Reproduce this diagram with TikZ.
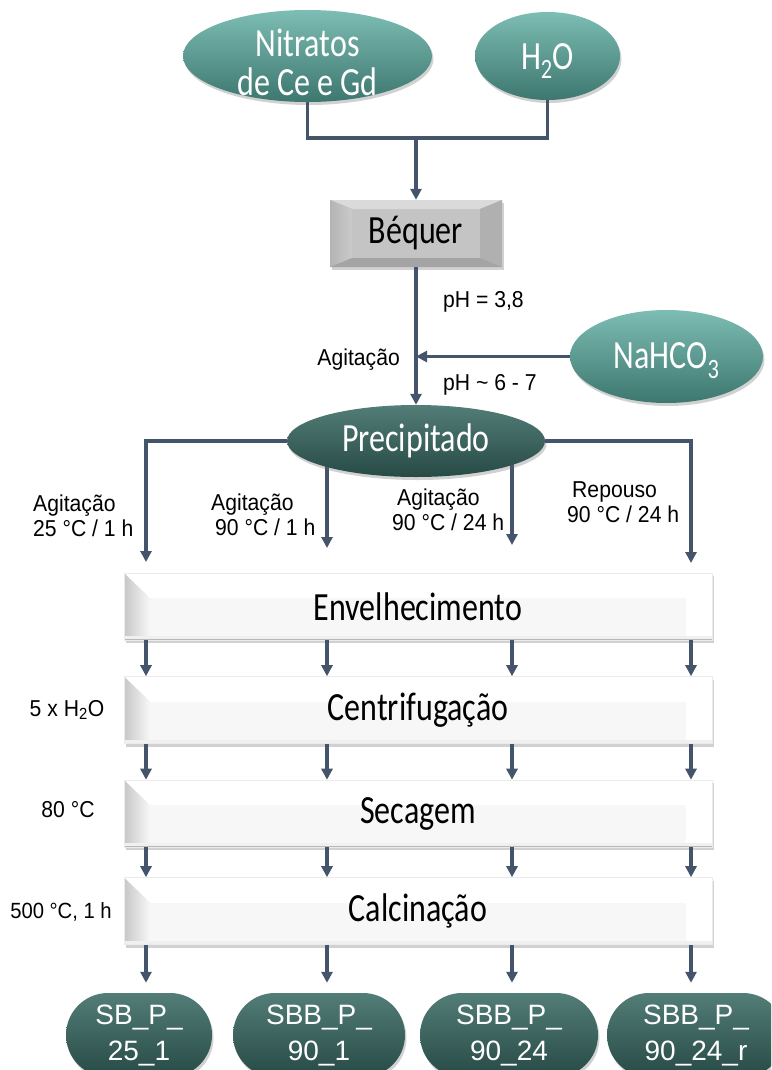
\documentclass[tikz,border=0pt]{standalone}
\usepackage{fontspec}
\setmainfont{Liberation Sans}
\newfontfamily\lfont{Liberation Sans}[FakeStretch=0.92]
\newfontfamily\cfont{Carlito}[FakeStretch=0.8]
\usetikzlibrary{arrows.meta,shapes.geometric,shadows}
\pgfdeclarelayer{bg}
\pgfsetlayers{bg,main}

\definecolor{linec}{HTML}{44546A}
\definecolor{tealA}{HTML}{7DBDB3}
\definecolor{tealB}{HTML}{4C8E85}
\definecolor{tealC}{HTML}{3D776F}
\definecolor{darkA}{HTML}{537D77}
\definecolor{darkB}{HTML}{2E5752}
\definecolor{darkC}{HTML}{274A45}
\definecolor{beqMid}{HTML}{C4C4C4}
\definecolor{beqTop}{HTML}{DADADA}
\definecolor{beqLeft}{HTML}{B4B4B4}
\definecolor{beqRight}{HTML}{B0B0B0}
\definecolor{beqBot}{HTML}{A4A4A4}

\tikzset{
  conn/.style={draw=linec, line width=3.5pt},
  arr/.style={conn, -{Triangle[width=11pt,length=11pt]}},
  lbl/.style={font=\lfont\fontsize{23}{25}\selectfont, inner sep=0pt, align=left, text=black},
  softshadow/.style={drop shadow={shadow xshift=1.5pt, shadow yshift=-3pt, opacity=.3, fill=black!60}},
  whitetext/.style={text=white, align=center, font=\cfont\fontsize{40}{39}\selectfont},
  tealell/.style={ellipse, inner sep=0pt, draw=none, whitetext,
    top color=tealA, middle color=tealB, bottom color=tealC, softshadow},
  darkell/.style={ellipse, inner sep=0pt, draw=none, whitetext,
    top color=darkA, middle color=darkB, bottom color=darkC, softshadow},
  prodbox/.style={rectangle, rounded corners=42pt, inner sep=0pt, draw=none, align=center,
    minimum height=84pt, top color=darkA, middle color=darkB, bottom color=darkC, softshadow,
    text=white, font=\fontsize{28}{36}\selectfont},
  beqbox/.style={rectangle, inner sep=0pt, fill=beqMid, minimum width=172pt, minimum height=67pt,
    softshadow, font=\cfont\fontsize{40}{39}\selectfont,
    path picture={
      \fill[beqTop] (path picture bounding box.north west) -- (path picture bounding box.north east)
        -- ([xshift=-22pt,yshift=-9pt]path picture bounding box.north east)
        -- ([xshift=22pt,yshift=-9pt]path picture bounding box.north west) -- cycle;
      \fill[left color=beqLeft, right color=beqMid!90!white] (path picture bounding box.north west)
        -- ([xshift=22pt,yshift=-9pt]path picture bounding box.north west)
        -- ([xshift=22pt,yshift=9pt]path picture bounding box.south west)
        -- (path picture bounding box.south west) -- cycle;
      \fill[beqRight] (path picture bounding box.north east)
        -- ([xshift=-22pt,yshift=-9pt]path picture bounding box.north east)
        -- ([xshift=-22pt,yshift=9pt]path picture bounding box.south east)
        -- (path picture bounding box.south east) -- cycle;
      \fill[beqBot] (path picture bounding box.south west) -- (path picture bounding box.south east)
        -- ([xshift=-22pt,yshift=9pt]path picture bounding box.south east)
        -- ([xshift=22pt,yshift=9pt]path picture bounding box.south west) -- cycle;
    }},
  stagebox/.style={rectangle, inner sep=0pt, fill=white, draw=black!8, line width=.6pt,
    minimum width=588pt, minimum height=67pt,
    drop shadow={shadow xshift=2pt, shadow yshift=-3pt, opacity=.3, fill=black!60},
    font=\cfont\fontsize{40}{39}\selectfont,
    path picture={
      % lower shaded band
      \fill[black!3] ([yshift=-25pt]path picture bounding box.north west)
        rectangle (path picture bounding box.south east);
      % right bevel, white
      \fill[white] (path picture bounding box.north east)
        -- ([xshift=-26pt,yshift=-25pt]path picture bounding box.north east)
        -- ([xshift=-26pt,yshift=4pt]path picture bounding box.south east)
        -- (path picture bounding box.south east) -- cycle;
      % left bevel, grey
      \fill[left color=black!22, right color=black!3] (path picture bounding box.north west)
        -- ([xshift=26pt,yshift=-25pt]path picture bounding box.north west)
        -- ([xshift=26pt,yshift=4pt]path picture bounding box.south west)
        -- (path picture bounding box.south west) -- cycle;
      \fill[black!6] ([yshift=4pt]path picture bounding box.south west) rectangle (path picture bounding box.south east);
      \draw[black!28, line width=1.2pt] (path picture bounding box.south west) -- (path picture bounding box.south east);
    }},
}

\begin{document}
\begin{tikzpicture}[x=1pt,y=-1pt]
\useasboundingbox (0,0) rectangle (771,1070);
\clip (0,0) rectangle (771,1070);

% reagents and beaker
\node[tealell, minimum width=249pt, minimum height=92pt,
  label={[whitetext, yshift=-6pt]center:Nitratos\\de Ce e Gd}] (nit) at (307.5,56) {};
\node[tealell, minimum width=145pt, minimum height=88pt, text height=36pt] (h2o) at (547.5,56) {H\textsubscript{2}O};
\node[beqbox] (beq) at (416,233.5) {Béquer};
\coordinate (join) at (416,138);
\draw[conn] (nit.south) |- (h2o.south |- join) -- (h2o.south);
\draw[arr] (join) -- (beq.north);

% precipitation
\node[tealell, minimum width=193pt, minimum height=93pt, text height=34pt] (nah) at (666.5,356.5) {NaHCO\textsubscript{3}};
\node[darkell, minimum width=258pt, minimum height=72pt] (prec) at (416,441) {Precipitado};
\draw[arr] (beq.south) -- (prec.north);
\draw[arr] (nah.west) -- (beq.south |- nah.west);
\node[lbl, anchor=west] (ph1) at (443,302) {pH = 3,8};
\node[lbl, anchor=east] (agit) at (400,360) {Agitação};
\node[lbl, anchor=west] (ph2) at (443,385) {pH \textasciitilde{} 6 - 7};

% process columns
\coordinate (c1) at (146,0);
\coordinate (c2) at (327,0);
\coordinate (c3) at (512,0);
\coordinate (c4) at (691,0);
\coordinate (t1) at (146,562);
\coordinate (t2) at (327,548);
\coordinate (t3) at (512,545);
\coordinate (t4) at (691,563);

\begin{pgfonlayer}{bg}
\draw[arr] (prec.center -| t2) -- (t2);
\draw[arr] (prec.center -| t3) -- (t3);
\end{pgfonlayer}
\draw[arr] (prec.west) -| (t1);
\draw[arr] (prec.east) -| (t4);

\node[lbl, anchor=west] (cond1) at (33,515.5) {Agitação\\25 °C / 1 h};
\node[lbl, anchor=west] (cond2) at (211,514.5) {Agitação\\\hspace*{4pt}90 °C / 1 h};
\node[lbl, anchor=west] (cond3) at (392,510) {\hspace*{5pt}Agitação\\90 °C / 24 h};
\node[lbl, anchor=west] (cond4) at (567,502.5) {\hspace*{5pt}Repouso\\90 °C / 24 h};

% treatment stages
\node[stagebox] (env) at (418,606.5) {Envelhecimento};
\node[stagebox] (cen) at (418,710) {Centrifugação};
\node[stagebox] (sec) at (418,813.5) {Secagem};
\node[stagebox] (cal) at (418,911) {Calcinação};

\node[lbl] (w5) at (67,710) {5 x H\textsubscript{2}O};
\node[lbl] (w80) at (68,810) {80 °C};
\node[lbl, font=\lfont\fontsize{22}{24}\selectfont] (w500) at (61,912) {500 °C, 1 h};

\foreach \a/\b in {env/cen, cen/sec, sec/cal}
  \foreach \c in {c1,c2,c3,c4}
    \draw[arr] (\a.south -| \c) -- (\b.north -| \c);

% products
\node[prodbox, minimum width=146pt] (p1) at (139,1035) {SB\_P\_\\25\_1};
\node[prodbox, minimum width=172pt] (p2) at (319,1035) {SBB\_P\_\\90\_1};
\node[prodbox, minimum width=178pt] (p3) at (509,1035) {SBB\_P\_\\90\_24};
\node[prodbox, minimum width=178pt] (p4) at (696,1035) {SBB\_P\_\\90\_24\_r};

\draw[arr, shorten >=10pt] (cal.south -| c1) -- (p1.north -| c1);
\draw[arr, shorten >=10pt] (cal.south -| c2) -- (p2.north -| c2);
\draw[arr, shorten >=10pt] (cal.south -| c3) -- (p3.north -| c3);
\draw[arr, shorten >=10pt] (cal.south -| c4) -- (p4.north -| c4);
\end{tikzpicture}
\end{document}
